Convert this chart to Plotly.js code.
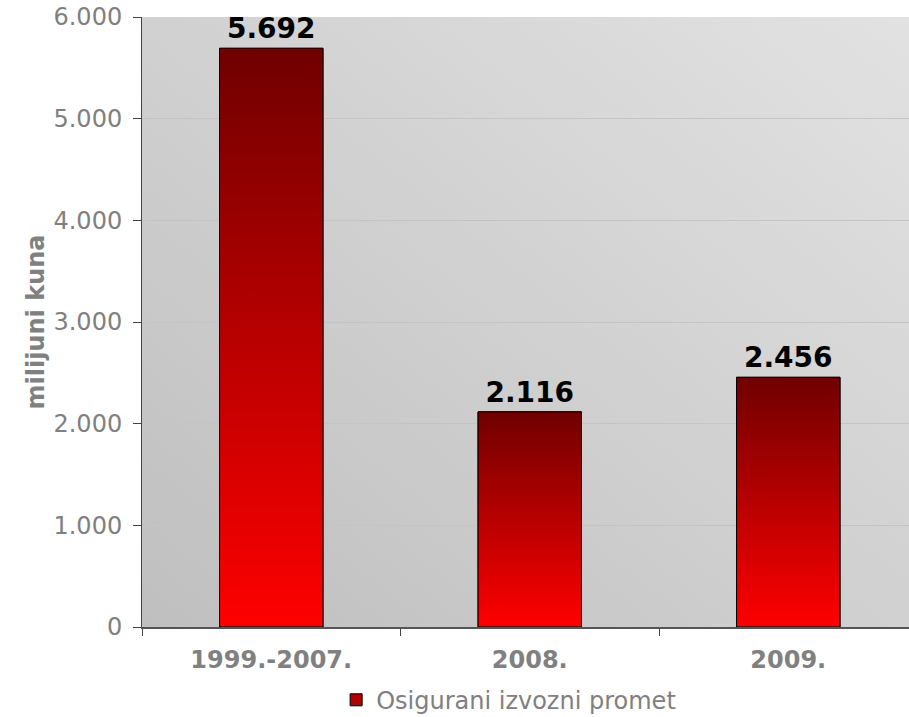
<!DOCTYPE html>
<html>
<head>
<meta charset="utf-8">
<script src="https://cdn.plot.ly/plotly-3.0.1.min.js"></script>
<style>html,body{margin:0;padding:0;background:#fff;}#chart{width:909px;height:717px;}</style>
</head>
<body>
<div id="chart"></div>
<script>
// Data
const categories = ["1999.-2007.", "2008.", "2009."];
const values = [5692, 2116, 2456];
const seriesName = "Osigurani izvozni promet";
const yTicks = [0, 1000, 2000, 3000, 4000, 5000, 6000];
const yAxisTitle = "milijuni kuna";

const FONT = "DejaVu Sans, Verdana, sans-serif";
const barWidth = 0.4;
const xRange = [-0.5, 2.467];

const traces = [];
traces.push({
  type: "bar",
  x: categories,
  y: values,
  name: seriesName,
  width: barWidth,
  marker: { color: "#b00000", line: { color: "#000", width: 1 } },
  texttemplate: "%{y:,}",
  textposition: "outside",
  cliponaxis: false,
  textfont: { family: FONT, size: 28, color: "#000", weight: "bold" },
  hoverinfo: "skip"
});

// gradient overlays for each bar, derived from the data
values.forEach(function (v, i) {
  const x0 = i - barWidth / 2, x1 = i + barWidth / 2;
  traces.push({
    type: "scatter",
    xaxis: "x2",
    x: [x0, x1, x1, x0, x0],
    y: [0, 0, v, v, 0],
    mode: "lines",
    fill: "toself",
    fillgradient: { type: "vertical", colorscale: [[0, "#ff0000"], [1, "#700000"]] },
    line: { color: "#000", width: 1 },
    showlegend: false,
    hoverinfo: "skip"
  });
});

const bgSvg = "<svg xmlns='http://www.w3.org/2000/svg' width='100' height='100' preserveAspectRatio='none' viewBox='0 0 100 100'>" +
  "<defs><linearGradient id='g' x1='0' y1='1' x2='1' y2='0'>" +
  "<stop offset='0' stop-color='#bfbfbf'/><stop offset='1' stop-color='#e2e2e2'/></linearGradient></defs>" +
  "<rect width='100' height='100' fill='url(#g)'/></svg>";

const layout = {
  width: 909,
  height: 717,
  margin: { l: 142, r: 0, t: 17, b: 90, autoexpand: false },
  paper_bgcolor: "#ffffff",
  plot_bgcolor: "rgba(0,0,0,0)",
  separators: ",.",
  font: { family: FONT, color: "#808080" },
  showlegend: true,
  legend: {
    orientation: "h",
    x: 0.478, xanchor: "center",
    y: -0.12, yanchor: "middle",
    font: { family: FONT, size: 24, color: "#808080" },
    bgcolor: "rgba(0,0,0,0)",
    borderwidth: 0
  },
  images: [{
    source: "data:image/svg+xml;charset=utf-8," + encodeURIComponent(bgSvg),
    xref: "paper", yref: "paper",
    x: 0, y: 1, sizex: 1, sizey: 1,
    xanchor: "left", yanchor: "top",
    sizing: "stretch", layer: "below"
  }],
  xaxis: {
    type: "category",
    categoryorder: "array",
    categoryarray: categories,
    range: xRange,
    tickson: "boundaries",
    ticks: "outside",
    ticklen: 7,
    tickwidth: 1,
    tickcolor: "#444",
    showline: true,
    linecolor: "#555",
    linewidth: 2,
    showgrid: false,
    fixedrange: true,
    ticklabelstandoff: 10,
    tickfont: { family: FONT, size: 24, color: "#808080", weight: "bold" }
  },
  xaxis2: {
    overlaying: "x",
    type: "linear",
    range: xRange,
    visible: false,
    fixedrange: true
  },
  yaxis: {
    range: [0, 6000],
    tickvals: yTicks,
    tickformat: ",",
    ticks: "outside",
    ticklen: 8,
    tickcolor: "#444",
    showline: true,
    linecolor: "#444",
    linewidth: 1,
    showgrid: true,
    gridcolor: "#c4c4c4",
    gridwidth: 1,
    zeroline: false,
    fixedrange: true,
    ticklabelstandoff: 6,
    tickfont: { family: FONT, size: 24, color: "#808080" },
    title: {
      text: yAxisTitle,
      standoff: 2,
      font: { family: FONT, size: 24, color: "#808080", weight: "bold" }
    }
  },
  bargap: 0.6
};

Plotly.newPlot("chart", traces, layout, { displayModeBar: false, staticPlot: true });
</script>
</body>
</html>
